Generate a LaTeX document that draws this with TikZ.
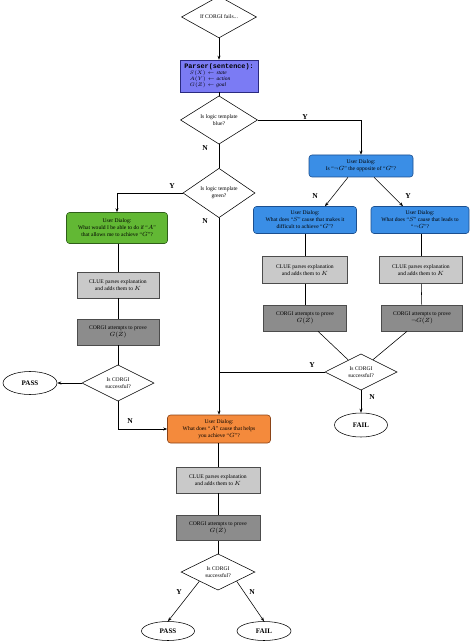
\documentclass[tikz,border=0pt]{standalone}
\usepackage{fontspec}
\setmainfont{Liberation Serif}
\newfontfamily\pmono{Liberation Mono}
\usetikzlibrary{shapes.geometric,arrows.meta,calc}
\definecolor{parserfill}{HTML}{7B7BF4}
\definecolor{parserdraw}{HTML}{2A2A80}
\definecolor{bluefill}{HTML}{3A8EE6}
\definecolor{bluedraw}{HTML}{1B4F8F}
\definecolor{greenfill}{HTML}{62B834}
\definecolor{greendraw}{HTML}{2F5E1A}
\definecolor{orangefill}{HTML}{F48A3C}
\definecolor{orangedraw}{HTML}{8A4317}
\definecolor{cluefill}{HTML}{C9C9C9}
\definecolor{corgifill}{HTML}{8C8C8C}
\tikzset{
  txt/.style={font=\fontsize{5.6}{7}\selectfont, align=center},
  dia/.style={diamond, draw, txt, inner sep=0pt, fill=white},
  dialog/.style={rectangle, rounded corners=3pt, draw, txt, inner sep=1pt, line width=0.6pt},
  cluebox/.style={rectangle, draw=black!70, fill=cluefill, txt, inner sep=1pt, line width=0.6pt},
  corgibox/.style={rectangle, draw=black!70, fill=corgifill, txt, inner sep=1pt, line width=0.6pt},
  term/.style={ellipse, draw, inner sep=0pt, font=\fontsize{7}{8}\selectfont\bfseries},
  lab/.style={font=\fontsize{7.5}{8}\selectfont\bfseries},
  arr/.style={-{Stealth[length=4pt,width=3pt]}},
}
\begin{document}
\begin{tikzpicture}[x=1pt,y=-1pt, every path/.append style={line width=0.55pt}]
\useasboundingbox (0,0) rectangle (474,644);

% top
\node[dia, minimum width=75, minimum height=36] (start) at (219,17) {If CORGI fails...};
\node[rectangle, draw=parserdraw, fill=parserfill, line width=0.6pt, minimum width=78, minimum height=32, inner sep=1pt, align=left, font=\fontsize{5.4}{6}\selectfont] (parser) at (219,76)
  {{\pmono\bfseries\fontsize{6.8}{6.8}\selectfont Parser(sentence):}\\
   \quad$S(X)\leftarrow \mathit{state}$\\
   \quad$A(Y)\leftarrow \mathit{action}$\\
   \quad$G(Z)\leftarrow \mathit{goal}$};
\node[dia, minimum width=77, minimum height=44] (blue) at (219,120) {Is logic template\\blue?};
\node[dia, minimum width=72, minimum height=34] (green) at (219,193) {Is logic template\\green?};

% blue branch
\node[dialog, fill=bluefill, draw=bluedraw, minimum width=104, minimum height=22] (bt) at (361,166)
  {User Dialog:\\Is ``$\neg G$'' the opposite of ``$G$''?};
\node[dialog, fill=bluefill, draw=bluedraw, minimum width=103, minimum height=27] (bl) at (305,220)
  {User Dialog:\\What does ``$S$'' cause that makes it\\difficult to achieve ``$G$''?};
\node[dialog, fill=bluefill, draw=bluedraw, minimum width=98, minimum height=27] (br) at (420,220)
  {User Dialog:\\What does ``$S$'' cause that leads to\\``$\neg G$''?};
\node[cluebox, minimum width=85, minimum height=27] (cm) at (305,270) {CLUE parses explanation\\and adds them to $K$};
\node[cluebox, minimum width=83, minimum height=27] (cr) at (421,270) {CLUE parses explanation\\and adds them to $K$};
\node[corgibox, minimum width=83, minimum height=26] (gm) at (305,318) {CORGI attempts to prove\\$G(Z)$};
\node[corgibox, minimum width=81, minimum height=26] (gr) at (422,318) {CORGI attempts to prove\\$\neg G(Z)$};
\node[dia, minimum width=72, minimum height=36] (dr) at (361,372) {Is CORGI\\successful?};
\node[term, minimum width=53, minimum height=24] (failr) at (361,425) {FAIL};

% green branch
\node[dialog, fill=greenfill, draw=greendraw, minimum width=101, minimum height=31] (gb) at (117,228)
  {User Dialog:\\What would I be able to do if ``$A$''\\that allows me to achieve ``$G$''?};
\node[cluebox, minimum width=82, minimum height=26] (cl) at (118,285) {CLUE parses explanation\\and adds them to $K$};
\node[corgibox, minimum width=82, minimum height=26] (gl) at (118,332) {CORGI attempts to prove\\$G(Z)$};
\node[dia, minimum width=72, minimum height=34] (dl) at (118,383) {Is CORGI\\successful?};
\node[term, minimum width=54, minimum height=23] (passl) at (30,383) {PASS};

% orange branch
\node[dialog, fill=orangefill, draw=orangedraw, minimum width=103, minimum height=28] (ob) at (219,429)
  {User Dialog:\\What does ``$A$'' cause that helps\\you achieve ``$G$''?};
\node[cluebox, minimum width=84, minimum height=26] (cb) at (218,480) {CLUE parses explanation\\and adds them to $K$};
\node[corgibox, minimum width=84, minimum height=25] (gbm) at (218,528) {CORGI attempts to prove\\$G(Z)$};
\node[dia, minimum width=74, minimum height=35] (db) at (218,572) {Is CORGI\\successful?};
\node[term, minimum width=53, minimum height=19] (passb) at (168,631) {PASS};
\node[term, minimum width=54, minimum height=19] (failb) at (264,631) {FAIL};

% connectors
\draw[arr] (start) -- (parser);
\draw (parser) -- (blue);
\draw[arr] (blue.east) -| (bt.north);
\node[lab] (ly1) at (305,117) {Y};
\draw (blue.south) -- (green.north);
\node[lab] (ln1) at (205,148) {N};
\draw[arr] (green.west) -| (gb.north);
\node[lab] (ly2) at (172,186) {Y};
\draw[arr] (green.south) -- (ob.north);
\node[lab] (ln2) at (205,221) {N};

\draw[arr] ([xshift=-13pt]bt.south) -- ([xshift=20pt]bl.north);
\node[lab] (ln3) at (315,196) {N};
\draw[arr] ([xshift=13pt]bt.south) -- ([xshift=-17pt]br.north);
\node[lab] (ly3) at (408,196) {Y};
\draw (bl) -- (cm);
\draw (cm) -- (gm);
\draw (br.south -| cr.north) -- (cr);
\draw (cr) -- (gr);
\draw ([xshift=13pt]gm.south) -- ($(dr.west)!0.65!(dr.north)$);
\draw ([xshift=-15pt]gr.south) -- ($(dr.north)!0.33!(dr.east)$);
\coordinate (joint) at (219,372);
\draw (dr.west) -- (joint);
\node[lab] (ly4) at (312,365) {Y};
\draw[arr] (dr.south) -- (failr.north);
\node[lab] (ln4) at (372,397) {N};

\draw (gb.south -| cl.north) -- (cl);
\draw (cl) -- (gl);
\draw (gl) -- (dl);
\draw[arr] (dl.west) -- (passl.east);
\draw[arr] (dl.south) |- (ob.west);
\node[lab] (ln5) at (130,421) {N};

\draw (ob.south -| cb.north) -- (cb);
\draw (cb) -- (gbm);
\draw (gbm) -- (db);
\draw[arr] ($(db.west)!0.5!(db.south)$) -- (passb.north);
\draw[arr] ($(db.east)!0.5!(db.south)$) -- (failb.north);
\node[lab] (ly5) at (179,592) {Y};
\node[lab] (ln6) at (252,592) {N};
\end{tikzpicture}
\end{document}
